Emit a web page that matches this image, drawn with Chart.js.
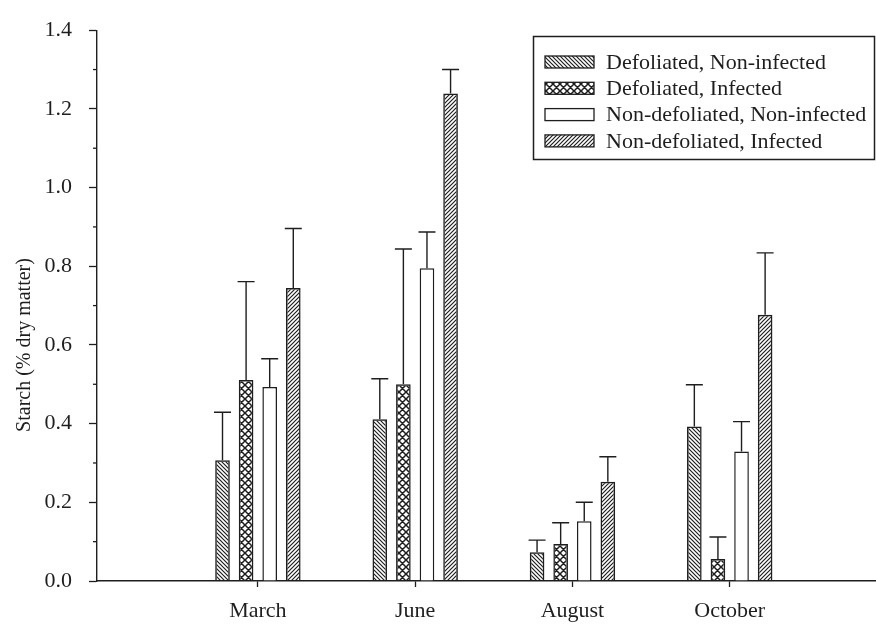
<!DOCTYPE html>
<html>
<head>
<meta charset="UTF-8">
<title>Starch</title>
<script src="https://cdn.jsdelivr.net/npm/chart.js@4.4.1/dist/chart.umd.min.js"></script>
<style>
  body { margin: 0; background: #fff; }
  canvas { display: block; }
</style>
</head>
<body>
<canvas id="starchChart" width="876" height="630"></canvas>
<script>
// values (means and upper error)
const months = ['March', 'June', 'August', 'October'];
const seriesNames = ['Defoliated, Non-infected', 'Defoliated, Infected', 'Non-defoliated, Non-infected', 'Non-defoliated, Infected'];
const defolNonInf = [0.307, 0.411, 0.073, 0.393];
const defolNonInfErr = [0.122, 0.103, 0.031, 0.106];
const defolInf = [0.511, 0.500, 0.094, 0.056];
const defolInfErr = [0.250, 0.344, 0.054, 0.056];
const nondefolNonInf = [0.493, 0.795, 0.152, 0.329];
const nondefolNonInfErr = [0.072, 0.092, 0.048, 0.076];
const nondefolInf = [0.745, 1.239, 0.252, 0.677];
const nondefolInfErr = [0.151, 0.061, 0.064, 0.157];
const yTicks = [0, 0.2, 0.4, 0.6, 0.8, 1.0, 1.2, 1.4];
const yMinorTicks = [0.1, 0.3, 0.5, 0.7, 0.9, 1.1, 1.3];

const ink = '#1e1e1e';
const serif = "'Liberation Serif', 'Times New Roman', serif";
Chart.defaults.font.family = serif;
Chart.defaults.color = ink;

const canvas = document.getElementById('starchChart');
const ctx = canvas.getContext('2d');

// hatch fills
function hatch(kind) {
    const c = document.createElement('canvas');
    const s = kind === 'cross' ? 7 : 4;
    c.width = s; c.height = s;
    const g = c.getContext('2d');
    g.strokeStyle = ink;
    g.lineWidth = kind === 'cross' ? 1.5 : 1.2;
    g.beginPath();
    if (kind === 'back' || kind === 'cross') {
        g.moveTo(-1, -1); g.lineTo(s + 1, s + 1);
        g.moveTo(-1, s - 1); g.lineTo(1, s + 1);
        g.moveTo(s - 1, -1); g.lineTo(s + 1, 1);
    }
    if (kind === 'fwd' || kind === 'cross') {
        g.moveTo(-1, s + 1); g.lineTo(s + 1, -1);
        g.moveTo(-1, 1); g.lineTo(1, -1);
        g.moveTo(s - 1, s + 1); g.lineTo(s + 1, s - 1);
    }
    g.stroke();
    return ctx.createPattern(c, 'repeat');
}

function toPoints(vals) {
    return vals.map((v, i) => ({x: i + 1, y: v}));
}

function makeSet(label, vals, errs, fill) {
    return {
        label: label,
        data: toPoints(vals),
        errors: errs,
        backgroundColor: fill,
        borderColor: ink,
        borderWidth: 1.5
    };
}

const errorBars = {
    id: 'errorBars',
    afterDatasetsDraw(chart) {
        const c = chart.ctx, y = chart.scales.y;
        c.save();
        c.strokeStyle = ink;
        c.lineWidth = 1.4;
        chart.data.datasets.forEach((ds, di) => {
            chart.getDatasetMeta(di).data.forEach((bar, i) => {
                const top = y.getPixelForValue(ds.data[i].y + ds.errors[i]);
                c.beginPath();
                c.moveTo(bar.x, bar.y);
                c.lineTo(bar.x, top);
                c.moveTo(bar.x - 8.5, top);
                c.lineTo(bar.x + 8.5, top);
                c.stroke();
            });
        });
        c.restore();
    }
};

const minorTicks = {
    id: 'minorTicks',
    afterDraw(chart) {
        const c = chart.ctx, y = chart.scales.y, left = chart.chartArea.left;
        c.save();
        c.strokeStyle = ink;
        c.lineWidth = 1.3;
        yMinorTicks.forEach(v => {
            const py = y.getPixelForValue(v);
            c.beginPath();
            c.moveTo(left, py);
            c.lineTo(left - 4, py);
            c.stroke();
        });
        // axis title
        c.translate(25, 345);
        c.rotate(-Math.PI / 2);
        c.font = '20px ' + serif;
        c.fillStyle = ink;
        c.textAlign = 'center';
        c.textBaseline = 'middle';
        c.fillText('Starch (% dry matter)', 0, 0);
        c.restore();
    }
};

const boxLegend = {
    id: 'boxLegend',
    afterDraw(chart) {
        const c = chart.ctx;
        c.save();
        c.strokeStyle = ink;
        c.lineWidth = 1.5;
        c.strokeRect(533.5, 36.5, 341, 123);
        c.font = '22px ' + serif;
        c.textBaseline = 'middle';
        chart.data.datasets.forEach((ds, i) => {
            const cy = 62 + i * 26.3;
            c.fillStyle = ds.backgroundColor;
            c.fillRect(545, cy - 6, 49, 12);
            c.lineWidth = 1.3;
            c.strokeRect(545, cy - 6, 49, 12);
            c.fillStyle = ink;
            c.fillText(ds.label, 606, cy + 1);
        });
        c.restore();
    }
};

new Chart(ctx, {
    type: 'bar',
    data: {
        datasets: [
            makeSet(seriesNames[0], defolNonInf, defolNonInfErr, hatch('back')),
            makeSet(seriesNames[1], defolInf, defolInfErr, hatch('cross')),
            makeSet(seriesNames[2], nondefolNonInf, nondefolNonInfErr, '#ffffff'),
            makeSet(seriesNames[3], nondefolInf, nondefolInfErr, hatch('fwd'))
        ]
    },
    options: {
        responsive: false,
        animation: false,
        categoryPercentage: 0.6,
        barPercentage: 0.62,
        layout: {padding: {top: 19, right: 0, left: 0, bottom: 0}},
        plugins: {
            legend: {display: false},
            tooltip: {enabled: false}
        },
        scales: {
            x: {
                type: 'linear',
                min: -0.023,
                max: 4.93,
                offset: false,
                afterBuildTicks: s => { s.ticks = months.map((m, i) => ({value: i + 1})); },
                afterFit: s => { s.height = 49; },
                grid: {offset: false, drawOnChartArea: false, tickLength: 6, color: ink, tickWidth: 1.3},
                border: {color: ink, width: 1.4},
                ticks: {padding: 11, color: ink, font: {size: 22}, maxRotation: 0, autoSkip: false,
                        callback: v => months[v - 1]}
            },
            y: {
                min: 0,
                max: 1.4,
                afterBuildTicks: s => { s.ticks = yTicks.map(v => ({value: v})); },
                afterFit: s => { s.width = 97; },
                grid: {drawOnChartArea: false, tickLength: 8, color: ink, tickWidth: 1.3},
                border: {color: ink, width: 1.4},
                ticks: {padding: 17, color: ink, font: {size: 22}, callback: v => v.toFixed(1)}
            }
        }
    },
    plugins: [errorBars, minorTicks, boxLegend]
});
</script>
</body>
</html>
